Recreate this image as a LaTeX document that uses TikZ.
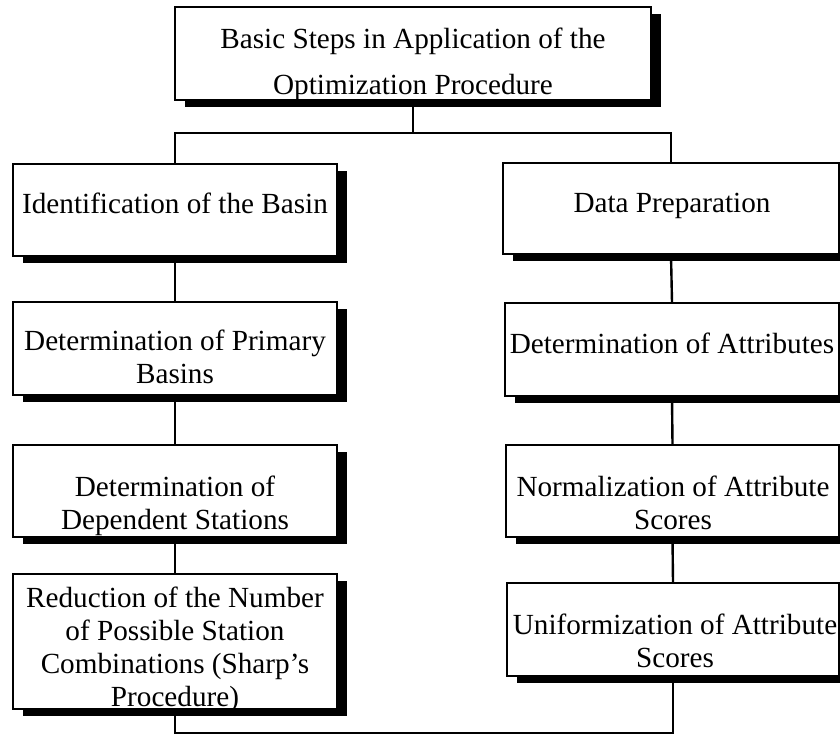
\documentclass[tikz,border=0pt]{standalone}
\usepackage{fontspec}
\setmainfont{Liberation Serif}
\usetikzlibrary{shadows}
\begin{document}
\begin{tikzpicture}[x=1pt,y=-1pt,
  box/.style={draw=black, line width=1.6pt, fill=white, inner sep=0pt,
    drop shadow={shadow xshift=10pt, shadow yshift=-7pt, fill=black, opacity=1}},
  txt/.style={anchor=north, align=center, inner sep=0pt, font=\fontsize{29.2}{33}\selectfont},
  toptxt/.style={txt, font=\fontsize{29.2}{46}\selectfont},
  conn/.style={line width=2.4pt}]
\useasboundingbox (0,0) rectangle (840,736);
\clip (0,0) rectangle (840,736);

% boxes
\node[box, minimum width=476pt, minimum height=93pt] (top) at (413,53.5) {};
\node[box, minimum width=324pt, minimum height=92pt] (L1) at (175,210) {};
\node[box, minimum width=324pt, minimum height=93pt] (L2) at (175,348.5) {};
\node[box, minimum width=324pt, minimum height=92pt] (L3) at (175,491) {};
\node[box, minimum width=324pt, minimum height=135pt] (L4) at (175,641.5) {};
\node[box, minimum width=336pt, minimum height=91pt] (R1) at (671,208.5) {};
\node[box, minimum width=334pt, minimum height=93pt] (R2) at (672,349.5) {};
\node[box, minimum width=333pt, minimum height=92pt] (R3) at (672.5,491) {};
\node[box, minimum width=332pt, minimum height=93pt] (R4) at (673,629.5) {};

% connectors
\coordinate (bar) at (413,133);
\coordinate (bot) at (175,733);
\draw[conn] (top.south) -- (bar);
\draw[conn] (L1.north) -- (L1.north |- bar) -- (R1.north |- bar) -- (R1.north);
\draw[conn] (L1.south) -- (L2.north);
\draw[conn] (L2.south) -- (L3.north);
\draw[conn] (L3.south) -- (L4.north);
\draw[conn] (R1.south) -- (R2.north);
\draw[conn] (R2.south) -- (R3.north);
\draw[conn] (R3.south) -- (R4.north);
\draw[conn] (L4.south) -- (L4.south |- bot) -- (R4.south |- bot) -- (R4.south);

% texts
\node[toptxt] (topT) at (413,28) {Basic Steps in Application of the\\Optimization Procedure};
\node[txt] (L1T) at (175,193) {Identification of the Basin};
\node[txt] (L2T) at (175,330) {Determination of Primary\\Basins};
\node[txt] (L3T) at (175,476) {Determination of\\Dependent Stations};
\begin{scope}
  \clip (L4.north west) rectangle (L4.south east);
  \node[txt] (L4T) at (175,587) {Reduction of the Number\\of Possible Station\\Combinations (Sharp’s\\Procedure)};
\end{scope}
\node[txt] (R1T) at (672,193) {Data Preparation};
\node[txt] (R2T) at (672,333) {Determination of Attributes};
\node[txt] (R3T) at (673,476) {Normalization of Attribute\\Scores};
\node[txt] (R4T) at (675,614) {Uniformization of Attribute\\Scores};
\end{tikzpicture}
\end{document}
